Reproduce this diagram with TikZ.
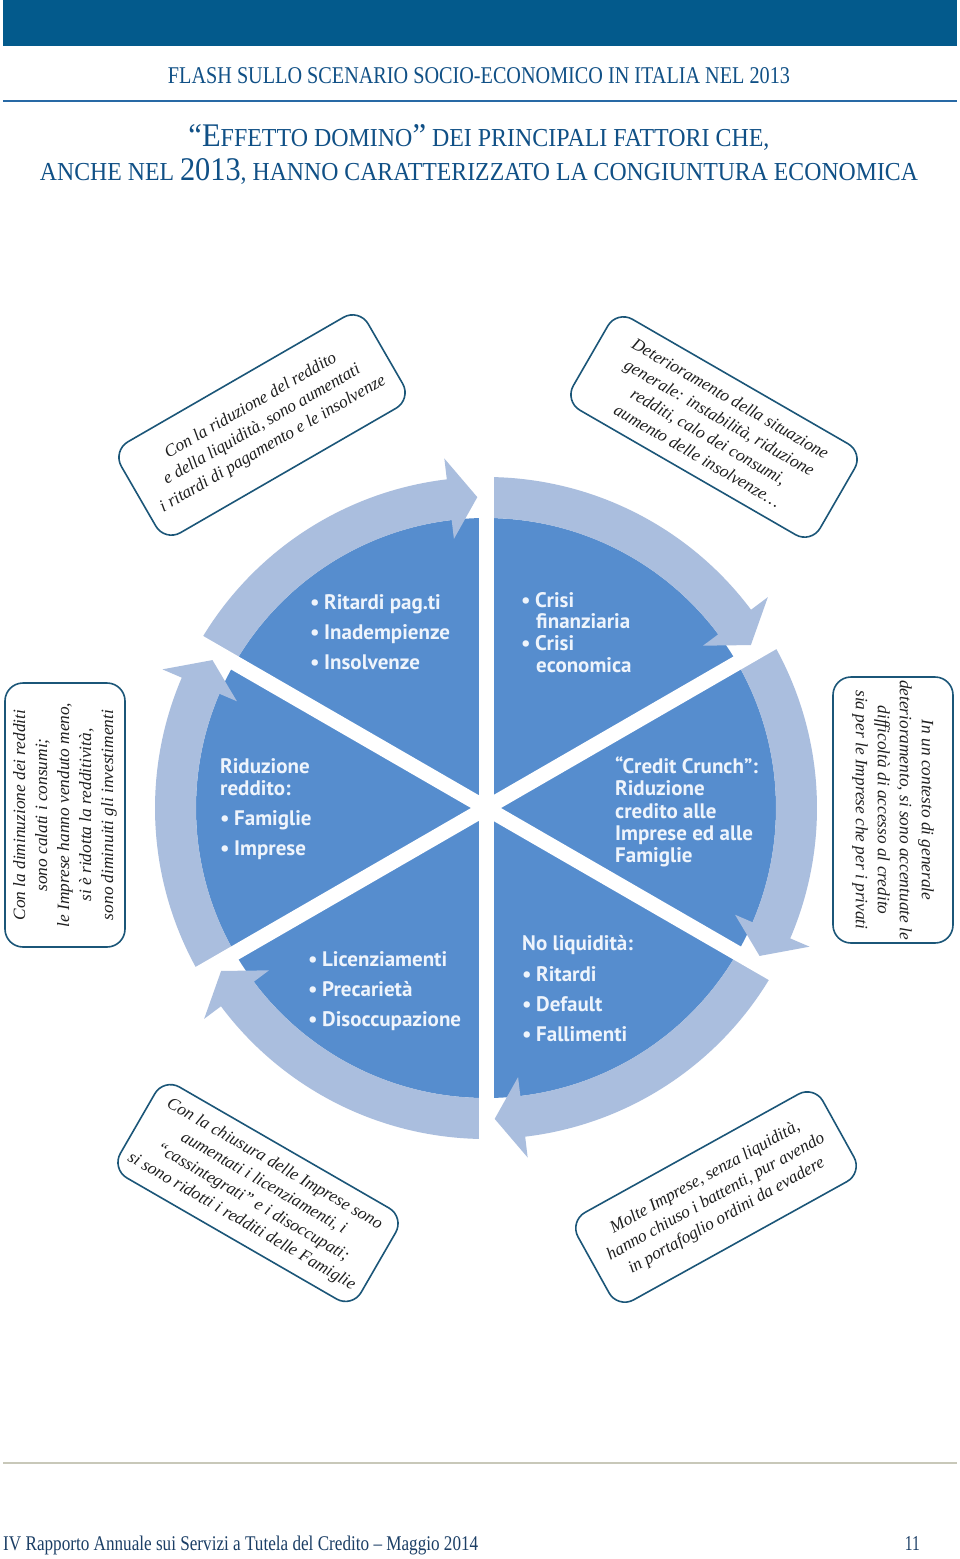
\documentclass[tikz,border=0pt]{standalone}
\usepackage{fontspec}
\usepackage{graphicx}
\setmainfont{Liberation Serif}
\newfontfamily\sectorfont{PT Sans}
\definecolor{barblue}{RGB}{3,90,140}
\definecolor{titleblue}{RGB}{16,80,134}
\definecolor{ruleblue}{RGB}{40,105,165}
\definecolor{rulegray}{RGB}{200,200,185}
\definecolor{footblue}{RGB}{28,63,102}
\definecolor{secblue}{RGB}{86,141,206}
\definecolor{ringblue}{RGB}{170,190,222}
\definecolor{boxline}{RGB}{27,86,120}
\definecolor{sectext}{RGB}{238,244,252}
\newcommand{\bigc}[1]{{\fontsize{30}{30}\selectfont #1}}
\newcommand{\smc}[1]{{\fontsize{23.5}{30}\selectfont #1}}
\begin{document}
\begin{tikzpicture}[x=1pt,y=1pt,
  sect/.style={text=sectext, font=\sectorfont\bfseries\fontsize{21}{24}\selectfont, anchor=base west, inner sep=0pt},
  callout/.style={draw=boxline, line width=1.6pt, rounded corners=18pt, fill=white, align=center,
     font=\itshape\fontsize{17.3}{22}\selectfont, text=black!88, inner sep=0pt},
  ttl/.style={text=titleblue, inner sep=0pt, anchor=base}]
\useasboundingbox (0,0) rectangle (960,-1559);
\fill[white] (0,0) rectangle (960,-1559);
\fill[barblue] (3,0) rectangle (957,-46);

% header texts
\node[ttl] (head) at (479,-83) {\resizebox{622pt}{16pt}{FLASH SULLO SCENARIO SOCIO-ECONOMICO IN ITALIA NEL 2013}};
\draw[ruleblue, line width=2.2pt] (3,-101) -- (957,-101);
\node[ttl] (title1) at (479,-146) {\resizebox{581pt}{22pt}{\bigc{“E}\smc{FFETTO DOMINO}\bigc{”}\smc{ DEI PRINCIPALI FATTORI CHE,}}};
\node[ttl] (title2) at (479,-180) {\resizebox{878pt}{22pt}{\smc{ANCHE NEL }\bigc{2013}\smc{, HANNO CARATTERIZZATO LA CONGIUNTURA ECONOMICA}}};

% wheel
\begin{scope}[shift={(486,-808)}]
  \fill[secblue] (0,0) circle[radius=290pt];
  \foreach \angS in {150,90,30,-30,-90,-150} {
    \pgfmathsetmacro\angE{\angS-60}
    \pgfmathsetmacro\angB{\angE+6.8}
    \pgfmathsetmacro\angT{\angE+1.6}
    \fill[ringblue] (\angS:331) arc[start angle=\angS, end angle=\angB, radius=331pt]
      -- (\angB:352) -- (\angT:311) -- (\angB:271) -- (\angB:290)
      arc[start angle=\angB, end angle=\angS, radius=290pt] -- cycle;
  }
  \foreach \angS in {90,30,-30,-90,-150,150}
    \draw[white, line width=15pt] (0,0) -- (\angS:368);
\end{scope}

% sector texts
\newcommand{\bul}{\makebox[14pt][l]{•}}
\node[sect] (tl1) at (310,-609) {\bul Ritardi pag.ti};
\node[sect] (tl2) at (310,-639) {\bul Inadempienze};
\node[sect] (tl3) at (310,-669) {\bul Insolvenze};

\node[sect] (tr1) at (521,-607) {\bul Crisi};
\node[sect] (tr2) at (536,-628) {finanziaria};
\node[sect] (tr3) at (521,-650) {\bul Crisi};
\node[sect] (tr4) at (536,-672) {economica};

\node[sect] (r1) at (615,-773) {“Credit Crunch”:};
\node[sect] (r2) at (615,-795) {Riduzione};
\node[sect] (r3) at (615,-818) {credito alle};
\node[sect] (r4) at (615,-840) {Imprese ed alle};
\node[sect] (r5) at (615,-862) {Famiglie};

\node[sect] (l1) at (220,-773) {Riduzione};
\node[sect] (l2) at (220,-795) {reddito:};
\node[sect] (l3) at (220,-825) {\bul Famiglie};
\node[sect] (l4) at (220,-855) {\bul Imprese};

\node[sect] (bl1) at (308,-966) {\bul Licenziamenti};
\node[sect] (bl2) at (308,-996) {\bul Precarietà};
\node[sect] (bl3) at (308,-1026) {\bul Disoccupazione};

\node[sect] (br1) at (522,-950) {No liquidità:};
\node[sect] (br2) at (522,-981) {\bul Ritardi};
\node[sect] (br3) at (522,-1011) {\bul Default};
\node[sect] (br4) at (522,-1041) {\bul Fallimenti};

% callouts
\node[callout, rotate=30, minimum width=285pt, minimum height=105pt] (b1) at (262,-425)
  {Con la riduzione del reddito\\ e della liquidità, sono aumentati\\ i ritardi di pagamento e le insolvenze};
\node[callout, rotate=-30, minimum width=285pt, minimum height=105pt] (b2) at (714,-427)
  {Deterioramento della situazione\\ generale: instabilità, riduzione\\ redditi, calo dei consumi,\\ aumento delle insolvenze…};
\node[callout, rotate=90, minimum width=264pt, minimum height=120pt] (b3) at (65,-815)
  {Con la diminuzione dei redditi\\ sono calati i consumi;\\ le Imprese hanno venduto meno,\\ si è ridotta la redditività,\\ sono diminuiti gli investimenti};
\node[callout, rotate=-90, minimum width=266pt, minimum height=120pt] (b4) at (893,-810)
  {In un contesto di generale\\ deterioramento, si sono accentuate le\\ difficoltà di accesso al credito\\ sia per le Imprese che per i privati};
\node[callout, rotate=-30, minimum width=278pt, minimum height=105pt] (b5) at (258,-1193)
  {Con la chiusura delle Imprese sono\\ aumentati i licenziamenti, i\\ “cassintegrati” e i disoccupati;\\ si sono ridotti i redditi delle Famiglie};
\node[callout, rotate=29, minimum width=280pt, minimum height=100pt] (b6) at (716,-1197)
  {Molte Imprese, senza liquidità,\\ hanno chiuso i battenti, pur avendo\\ in portafoglio ordini da evadere};

% footer
\draw[rulegray, line width=2pt] (3,-1463) -- (957,-1463);
\node[inner sep=0pt, anchor=base west, text=footblue] (foot) at (3,-1550)
  {\resizebox{475pt}{14.5pt}{IV Rapporto Annuale sui Servizi a Tutela del Credito – Maggio 2014}};
\node[inner sep=0pt, anchor=base east, text=footblue] (pnum) at (920,-1550)
  {\resizebox{15pt}{14pt}{11}};
\end{tikzpicture}
\end{document}
